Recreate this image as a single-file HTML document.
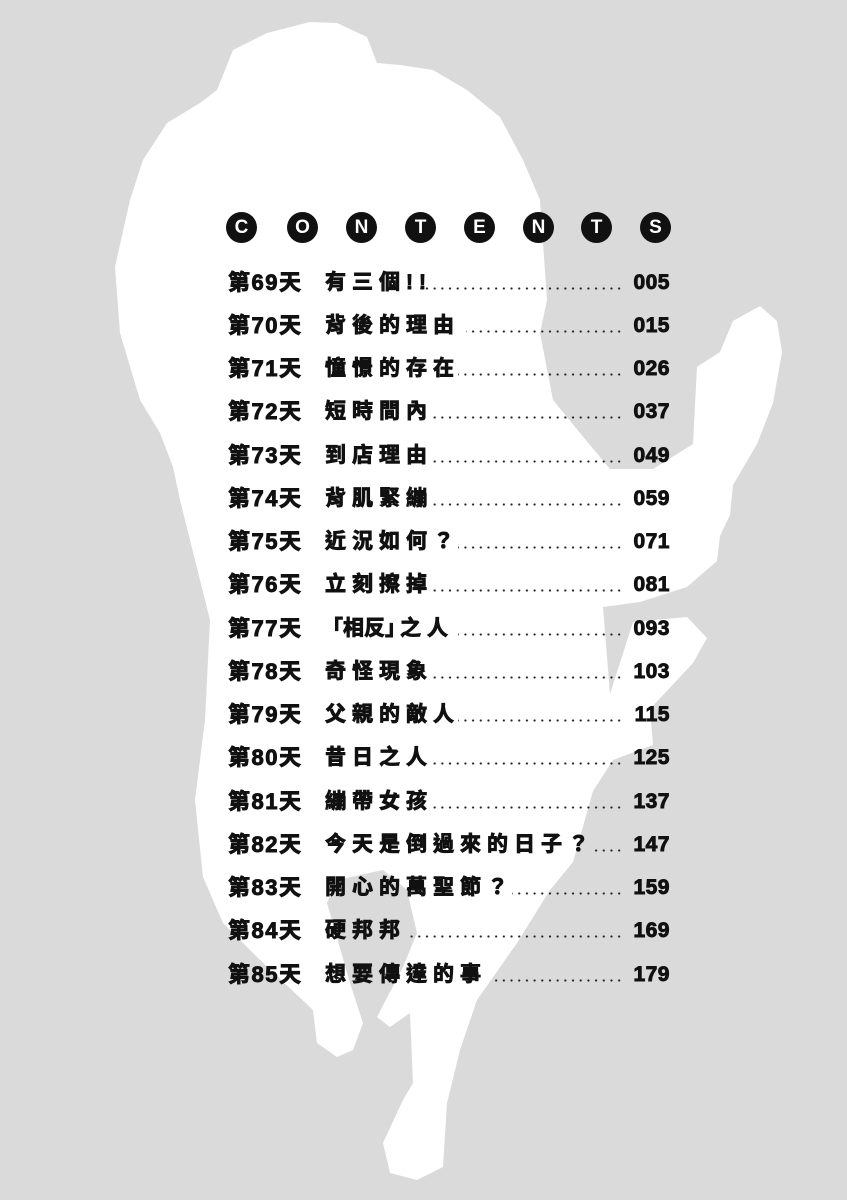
<!DOCTYPE html>
<html><head><meta charset="utf-8">
<style>
html,body{margin:0;padding:0}
body{width:847px;height:1200px;position:relative;overflow:hidden;background:#dadada;font-family:"Liberation Sans","Noto Sans CJK TC",sans-serif;}
svg.bg{position:absolute;left:0;top:0}
.c{position:absolute;top:212px;width:31px;height:31px;border-radius:50%;background:#111;color:#fff;font-weight:bold;font-size:19px;line-height:31px;text-align:center;font-family:"Liberation Sans",sans-serif}
.r{position:absolute;left:0;width:847px;height:26px;font-weight:bold;color:#111;-webkit-text-stroke:0.9px #111}
.r .a{position:absolute;left:228px;top:0;font-size:22px;line-height:26px;letter-spacing:1.5px;white-space:nowrap}
.r .t{position:absolute;left:325px;top:0;font-size:21px;line-height:26px;letter-spacing:6px;white-space:nowrap}
.r .d{position:absolute;top:17px;height:3px;right:224px;background-image:radial-gradient(circle,#222 0.9px,transparent 1.3px);background-size:7.7px 3px;background-repeat:repeat-x;background-position:right;-webkit-text-stroke:0}
.r .n{position:absolute;right:177px;top:0;font-size:21px;line-height:26px;letter-spacing:0.5px;font-family:"Liberation Sans",sans-serif}
</style></head><body>
<svg class="bg" width="847" height="1200" viewBox="0 0 847 1200">
<path fill="#fff" d="M217,90 L233,50 L267,33 L310,22 L337,23 L367,37 L377,63 L400,65 L433,70 L467,90 L500,117 L523,160 L540,200 L547,300 L540,333 L553,400 L580,433 L610,469 L653,469 L693,444 L697,367 L720,352 L733,321 L760,306 L777,321 L782,352 L773,403 L757,444 L733,485 L730,515 L720,536 L717,561 L687,587 L640,602 L603,607 L610,694 L633,622 L687,617 L707,638 L693,663 L650,709 L653,745 L613,760 L593,791 L573,862 L550,890 L517,943 L477,1000 L460,1050 L447,1103 L443,1167 L417,1180 L390,1173 L383,1143 L403,1100 L413,1083 L410,1013 L390,1027 L377,1017 L403,967 L417,933 L407,890 L383,870 L337,880 L327,903 L350,983 L363,1023 L353,1050 L337,1057 L317,1043 L313,1010 L260,960 L223,923 L203,877 L195,800 L205,720 L210,620 L195,560 L180,500 L173,467 L160,433 L140,400 L120,333 L115,267 L130,200 L143,160 L167,123 L200,103 Z"/>
</svg>
<div class="c" style="left:226px">C</div>
<div class="c" style="left:287px">O</div>
<div class="c" style="left:346px">N</div>
<div class="c" style="left:405px">T</div>
<div class="c" style="left:464px">E</div>
<div class="c" style="left:523px">N</div>
<div class="c" style="left:581px">T</div>
<div class="c" style="left:640px">S</div>

<div class="r" style="top:270px"><span class="a">第69天</span><span class="t">有三個!!</span><span class="d" style="left:420px"></span><span class="n">005</span></div>
<div class="r" style="top:313px"><span class="a">第70天</span><span class="t">背後的理由</span><span class="d" style="left:466px"></span><span class="n">015</span></div>
<div class="r" style="top:356px"><span class="a">第71天</span><span class="t">憧憬的存在</span><span class="d" style="left:458px"></span><span class="n">026</span></div>
<div class="r" style="top:399px"><span class="a">第72天</span><span class="t">短時間內</span><span class="d" style="left:432px"></span><span class="n">037</span></div>
<div class="r" style="top:443px"><span class="a">第73天</span><span class="t">到店理由</span><span class="d" style="left:432px"></span><span class="n">049</span></div>
<div class="r" style="top:486px"><span class="a">第74天</span><span class="t">背肌緊繃</span><span class="d" style="left:432px"></span><span class="n">059</span></div>
<div class="r" style="top:529px"><span class="a">第75天</span><span class="t">近況如何？</span><span class="d" style="left:458px"></span><span class="n">071</span></div>
<div class="r" style="top:572px"><span class="a">第76天</span><span class="t">立刻擦掉</span><span class="d" style="left:432px"></span><span class="n">081</span></div>
<div class="r" style="top:616px"><span class="a">第77天</span><span class="t" style="letter-spacing:0;left:322px">「相反」<span style="letter-spacing:6px;margin-left:-6px">之人</span></span><span class="d" style="left:458px"></span><span class="n">093</span></div>
<div class="r" style="top:659px"><span class="a">第78天</span><span class="t">奇怪現象</span><span class="d" style="left:432px"></span><span class="n">103</span></div>
<div class="r" style="top:702px"><span class="a">第79天</span><span class="t">父親的敵人</span><span class="d" style="left:458px"></span><span class="n">115</span></div>
<div class="r" style="top:745px"><span class="a">第80天</span><span class="t">昔日之人</span><span class="d" style="left:432px"></span><span class="n">125</span></div>
<div class="r" style="top:789px"><span class="a">第81天</span><span class="t">繃帶女孩</span><span class="d" style="left:432px"></span><span class="n">137</span></div>
<div class="r" style="top:832px"><span class="a">第82天</span><span class="t">今天是倒過來的日子？</span><span class="d" style="left:593px"></span><span class="n">147</span></div>
<div class="r" style="top:875px"><span class="a">第83天</span><span class="t">開心的萬聖節？</span><span class="d" style="left:512px"></span><span class="n">159</span></div>
<div class="r" style="top:918px"><span class="a">第84天</span><span class="t">硬邦邦</span><span class="d" style="left:406px"></span><span class="n">169</span></div>
<div class="r" style="top:962px"><span class="a">第85天</span><span class="t">想要傳達的事</span><span class="d" style="left:490px"></span><span class="n">179</span></div>
</body></html>
